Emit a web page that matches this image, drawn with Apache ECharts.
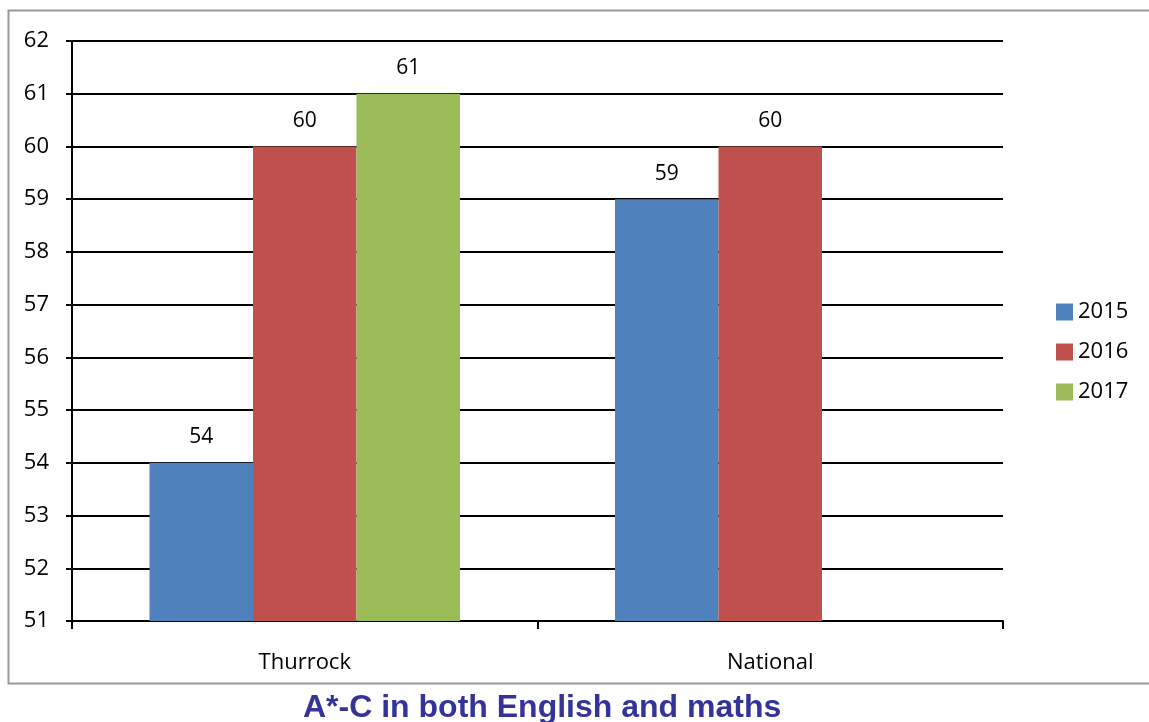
<!DOCTYPE html>
<html>
<head>
<meta charset="utf-8">
<script src="https://cdn.jsdelivr.net/npm/echarts@6/dist/echarts.min.js"></script>
<style>
  html, body { margin: 0; padding: 0; background: #fff; }
  #chart { width: 1149px; height: 722px; }
</style>
</head>
<body>
<div id="chart"></div>
<script>
// data
const categories = ["Thurrock", "National"];
const years = ["2015", "2016", "2017"];
const values2015 = [54, 59];
const values2016 = [60, 60];
const values2017 = [61, null];
const colors = ["#4f81bd", "#c0504d", "#9bbb59"];

const chart = echarts.init(document.getElementById("chart"));
const font = "Open Sans, Liberation Sans, sans-serif";

const mkSeries = (name, data, i) => ({
  name,
  type: "bar",
  data,
  barGap: "0%",
  barCategoryGap: "33.3%",
  itemStyle: { color: colors[i] },
  label: {
    show: true,
    position: "top",
    distance: 15,
    color: "#000",
    fontSize: 21,
    fontFamily: font,
  },
});

chart.setOption({
  animation: false,
  graphic: [
    {
      type: "rect",
      shape: { x: 8.5, y: 10.5, width: 1150, height: 673 },
      style: { fill: "none", stroke: "#999", lineWidth: 2 },
      z: -1,
    },
  ],
  title: {
    text: "A*-C in both English and maths",
    left: 298,
    top: 687,
    textStyle: {
      color: "#333399",
      fontSize: 32,
      fontWeight: "bold",
      fontFamily: "Liberation Sans, Arial, sans-serif",
    },
  },
  legend: {
    orient: "vertical",
    left: 1051,
    top: 296,
    itemWidth: 17,
    itemHeight: 17,
    itemGap: 18,
    icon: "rect",
    textStyle: { fontSize: 22, color: "#000", fontFamily: font },
    data: years,
  },
  grid: { left: 72, top: 41, width: 931, height: 580, containLabel: false },
  xAxis: {
    type: "category",
    data: categories,
    axisLine: { lineStyle: { color: "#000", width: 2 } },
    axisTick: { show: true, length: 8, lineStyle: { color: "#000", width: 2 } },
    axisLabel: { fontSize: 22, color: "#000", margin: 31, fontFamily: font },
  },
  yAxis: {
    type: "value",
    min: 51,
    max: 62,
    interval: 1,
    axisLine: { show: true, lineStyle: { color: "#000", width: 2 } },
    axisTick: { show: true, length: 6, lineStyle: { color: "#000", width: 2 } },
    axisLabel: { fontSize: 22, color: "#000", margin: 23, fontFamily: font },
    splitLine: { lineStyle: { color: "#000", width: 2 } },
  },
  series: [
    mkSeries(years[0], values2015, 0),
    mkSeries(years[1], values2016, 1),
    mkSeries(years[2], values2017, 2),
  ],
});
</script>
</body>
</html>
